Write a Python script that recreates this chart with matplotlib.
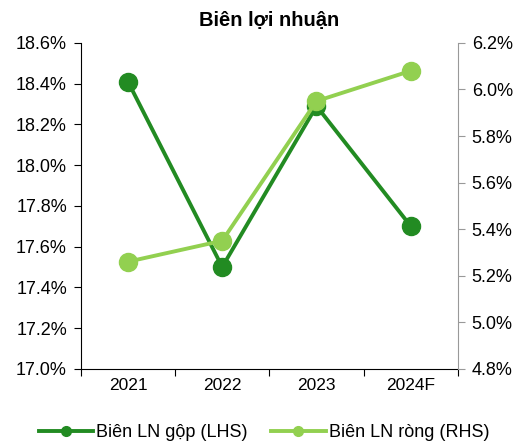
import matplotlib.pyplot as plt
from matplotlib.ticker import FuncFormatter
from matplotlib.lines import Line2D

plt.rcParams['font.family'] = ['Liberation Sans', 'DejaVu Sans']

years = ["2021", "2022", "2023", "2024F"]
gross_margin = [18.41, 17.50, 18.29, 17.70]   # LHS
net_margin = [5.26, 5.35, 5.95, 6.08]         # RHS

dark = "#228B22"
light = "#92D050"

fig = plt.figure(figsize=(5.18, 4.47), dpi=100)
ax = fig.add_axes([0.156, 0.175, 0.728, 0.729])
ax2 = ax.twinx()

x = list(range(len(years)))
ax.plot(x, gross_margin, color=dark, lw=2.8, marker="o", ms=13, zorder=3)
ax2.plot(x, net_margin, color=light, lw=2.8, marker="o", ms=13, zorder=3)

ax.set_xlim(-0.5, 3.5)
ax.set_ylim(17.0, 18.6)
ax2.set_ylim(4.8, 6.2)
ax.set_yticks([17.0 + 0.2 * i for i in range(9)])
ax2.set_yticks([4.8 + 0.2 * i for i in range(8)])
pct = FuncFormatter(lambda v, p: f"{v:.1f}%")
ax.yaxis.set_major_formatter(pct)
ax2.yaxis.set_major_formatter(pct)

ax.set_xticks([-0.5, 0.5, 1.5, 2.5, 3.5])
ax.set_xticklabels([])
ax.set_xticks(x, minor=True)
ax.set_xticklabels(years, minor=True)
ax.tick_params(axis="x", which="major", length=5, color="black")
ax.tick_params(axis="x", which="minor", length=0, labelsize=12.5, pad=7)
ax.tick_params(axis="y", length=5, labelsize=13, pad=5)
ax2.tick_params(axis="y", length=5, labelsize=13, pad=5, color="#999999")

for a in (ax, ax2):
    a.spines["top"].set_visible(False)
ax2.spines["left"].set_visible(False)
ax2.spines["bottom"].set_visible(False)
ax2.spines["right"].set_color("#999999")
ax.spines["right"].set_visible(False)

ax.set_title("Biên lợi nhuận", fontsize=14.5, fontweight="bold", pad=12)

handles = [
    Line2D([], [], color=dark, lw=2.8, marker="o", ms=7),
    Line2D([], [], color=light, lw=2.8, marker="o", ms=7),
]
fig.legend(handles, ["Biên LN gộp (LHS)", "Biên LN ròng (RHS)"],
           loc="center", bbox_to_anchor=(0.51, 0.032), ncol=2, frameon=False,
           fontsize=13, handlelength=3.0, columnspacing=1.3, handletextpad=0.2)

fig.savefig("out.png", dpi=100)
